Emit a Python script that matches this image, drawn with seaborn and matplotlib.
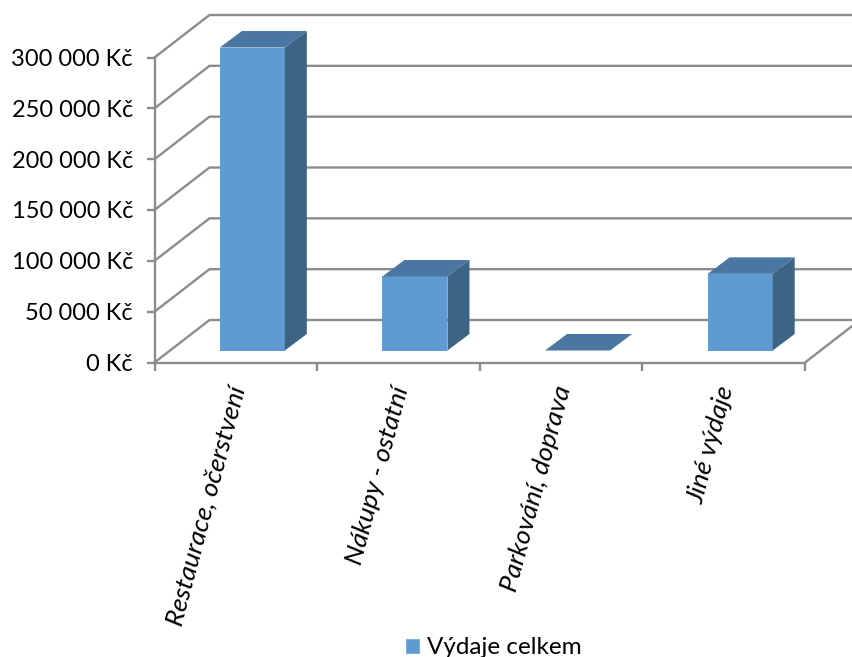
import matplotlib
matplotlib.use('Agg')
import matplotlib.pyplot as plt
from matplotlib.patches import Patch
import seaborn as sns
import pandas as pd

categories = ['Restaurace, očerstvení', 'Nákupy - ostatní', 'Parkování, doprava', 'Jiné výdaje']
values = [298000, 72800, 0, 75400]
y_ticks = [0, 50000, 100000, 150000, 200000, 250000, 300000]
y_labels = ['0 Kč', '50 000 Kč', '100 000 Kč', '150 000 Kč', '200 000 Kč', '250 000 Kč', '300 000 Kč']
series_name = 'Výdaje celkem'

sns.set_style('white')
plt.rcParams['font.family'] = ['Lato', 'DejaVu Sans']

FRONT = '#5F9BD1'
TOP = '#4A77A1'
SIDE = '#3E6485'
LINE = '#8C8C8C'

W, H = 852, 657
fig = plt.figure(figsize=(W / 100, H / 100), dpi=100)
ax = fig.add_axes([154.5 / W, 1 - 362.5 / H, 650.5 / W, 305 / H])

df = pd.DataFrame({'category': categories, 'value': values})
sns.barplot(data=df, x='category', y='value', color=FRONT, saturation=1, width=0.4, ax=ax, zorder=5, linewidth=0)
ax.set_xlim(-0.5, 3.5)
ax.set_ylim(0, 300000)

# pixel sizes -> data units
ux = 4 / 650.5
uy = 300000 / 305


def depth_poly(points, color, z):
    ax.fill([p[0] for p in points], [p[1] for p in points], color=color, lw=0, zorder=z, clip_on=False)


# walls: back gridlines and the diagonals on the left side
wall_dx, wall_dy = 55 * ux, 42.5 * uy
for t in y_ticks:
    ax.plot([-0.5, -0.5 + wall_dx, 3.5 + wall_dx + 1], [t, t + wall_dy, t + wall_dy], color=LINE, lw=1.7,
            clip_on=False, zorder=1)
ax.plot([3.5, 3.5 + wall_dx], [0, wall_dy], color=LINE, lw=1.7, clip_on=False, zorder=1)

# move the front faces onto the floor and add top and side faces
shift_x, floor = 16.5 * ux, 12 * uy
dx, dy = 22 * ux, 16.5 * uy
for bar, val in zip(ax.patches, values):
    x0 = bar.get_x() + shift_x
    x1 = x0 + bar.get_width()
    bar.set_x(x0)
    bar.set_y(floor)
    bar.set_clip_on(False)
    y1 = floor + val
    depth_poly([(x0, y1), (x1, y1), (x1 + dx, y1 + dy), (x0 + dx, y1 + dy)], TOP, 6)
    if val > 0:
        depth_poly([(x1, floor), (x1 + dx, floor + dy), (x1 + dx, y1 + dy), (x1, y1)], SIDE, 6)

ax.set_xlabel('')
ax.set_ylabel('')
ax.set_yticks(y_ticks)
ax.set_yticklabels(y_labels, fontsize=17, color='black')
ax.set_xticks([-0.5, 0.5, 1.5, 2.5, 3.5])
ax.set_xticklabels([])
ax.tick_params(axis='both', length=5.5, width=1.7, color=LINE, left=True, bottom=True)
ax.tick_params(axis='y', pad=10)
for i, name in enumerate(categories):
    ax.annotate(name, xy=(i, 0), xycoords='data', xytext=(3, -24), textcoords='offset pixels',
                rotation=75, rotation_mode='anchor', ha='right', va='center',
                fontsize=19, style='italic', color='black', annotation_clip=False)

for s in ['top', 'right']:
    ax.spines[s].set_visible(False)
for s in ['left', 'bottom']:
    ax.spines[s].set_color(LINE)
    ax.spines[s].set_linewidth(1.7)
    ax.spines[s].set_zorder(2)

fig.legend(handles=[Patch(facecolor=FRONT, label=series_name)], loc='center', frameon=False,
           bbox_to_anchor=(493 / W, 1 - 648 / H), fontsize=17.5, handlelength=0.62, handleheight=0.62,
           handletextpad=0.3, borderpad=0, labelcolor='black')

fig.savefig('out.png', dpi=100)
